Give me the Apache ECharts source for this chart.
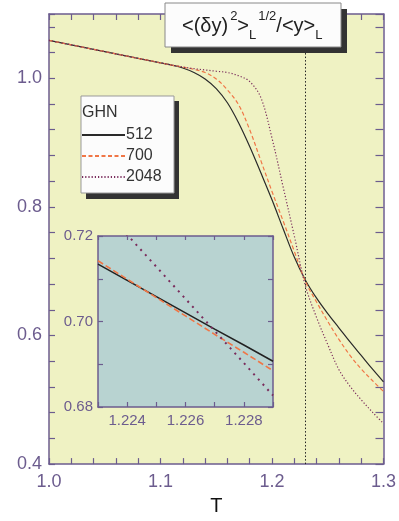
<!DOCTYPE html>
<html>
<head>
<meta charset="utf-8">
<script src="https://cdn.jsdelivr.net/npm/echarts@6/dist/echarts.min.js"></script>
<style>
  html, body { margin: 0; padding: 0; background: #fff; }
  #main { width: 399px; height: 521px; }
</style>
</head>
<body>
<div id="main"></div>
<script>
// main panel
var temps = [1.00, 1.02, 1.04, 1.06, 1.08, 1.10, 1.11, 1.12, 1.13, 1.14, 1.15, 1.16, 1.17, 1.18, 1.19,
             1.20, 1.21, 1.22, 1.23, 1.24, 1.25, 1.26, 1.27, 1.28, 1.29, 1.30];
var v512 = [1.059, 1.052, 1.045, 1.038, 1.031, 1.024, 1.0205, 1.016, 1.009, 0.999, 0.984, 0.962, 0.931, 0.894, 0.853,
            0.811, 0.766, 0.722, 0.686, 0.658, 0.634, 0.612, 0.590, 0.569, 0.548, 0.528];
var v700 = [1.059, 1.052, 1.045, 1.038, 1.031, 1.024, 1.0205, 1.0175, 1.014, 1.009, 0.999, 0.982, 0.959, 0.920, 0.872,
            0.824, 0.778, 0.731, 0.684, 0.652, 0.622, 0.594, 0.569, 0.548, 0.530, 0.513];
var v2048 = [1.059, 1.052, 1.045, 1.038, 1.031, 1.024, 1.0205, 1.0175, 1.015, 1.013, 1.011, 1.009, 1.004, 0.995, 0.970,
             0.907, 0.831, 0.755, 0.677, 0.628, 0.586, 0.547, 0.521, 0.500, 0.481, 0.463];

// inset (zoom near the crossing)
var tInset = [1.223, 1.224, 1.225, 1.226, 1.227, 1.228, 1.229];
var i512 = [0.7134, 0.7096, 0.7058, 0.7020, 0.6982, 0.6945, 0.6907];
var i700 = [0.7142, 0.7099, 0.7056, 0.7013, 0.6970, 0.6928, 0.6885];
var i2048 = [0.7278, 0.7203, 0.7128, 0.7053, 0.6978, 0.6903, 0.6827];

var TC = 1.2276;
var legendNames = ['512', '700', '2048'];

var purple = '#6c5c8e';
var font = 'Liberation Sans, Arial, sans-serif';

function pairs(xs, ys) {
    return xs.map(function (x, i) { return [x, ys[i]]; });
}
function every(step, digits) {
    return function (v) {
        var k = v / step;
        return Math.abs(k - Math.round(k)) < 1e-6 ? v.toFixed(digits) : '';
    };
}
function axis(grid, pos, min, max, step, label, tickLen) {
    return {
        type: 'value', gridIndex: grid, position: pos,
        min: min, max: max, interval: step,
        axisLine: { show: true, onZero: false, lineStyle: { color: purple, width: 1.5 } },
        axisTick: { show: true, inside: true, length: tickLen, lineStyle: { color: purple, width: 1.2 } },
        axisLabel: label ? label : { show: false },
        splitLine: { show: false }
    };
}

var myChart = echarts.init(document.getElementById('main'));

var xMain = axis(0, 'bottom', 1.0, 1.3, 0.02,
    { formatter: every(0.1, 1), fontSize: 18, color: purple, fontFamily: font, margin: 9 }, 6);
xMain.name = 'T';
xMain.nameLocation = 'middle';
xMain.nameGap = 27;
xMain.nameTextStyle = { fontSize: 20, color: '#111', fontFamily: font };

option = {
    animation: false,
    backgroundColor: '#fff',
    grid: [
        { left: 49, top: 14, width: 336, height: 460, show: true, backgroundColor: '#eff2c3', borderWidth: 0 },
        { left: 98, top: 236, width: 175, height: 171, show: true, backgroundColor: '#b8d3d1', borderWidth: 0 }
    ],
    xAxis: [
        xMain,
        axis(0, 'top', 1.0, 1.3, 0.02, null, 6),
        axis(1, 'bottom', 1.223, 1.229, 0.001,
            { formatter: every(0.002, 3), fontSize: 15, color: purple, fontFamily: font, margin: 6 }, 5),
        axis(1, 'top', 1.223, 1.229, 0.001, null, 4)
    ],
    yAxis: [
        axis(0, 'left', 0.4, 1.1, 0.04,
            { formatter: every(0.2, 1), fontSize: 18, color: purple, fontFamily: font, margin: 7 }, 6),
        axis(0, 'right', 0.4, 1.1, 0.04, null, 8),
        axis(1, 'left', 0.68, 0.72, 0.01,
            { formatter: every(0.02, 2), fontSize: 15, color: purple, fontFamily: font, margin: 5 }, 5),
        axis(1, 'right', 0.68, 0.72, 0.01, null, 5)
    ],
    legend: {
        data: legendNames,
        orient: 'vertical',
        left: 81, top: 127,
        itemWidth: 43, itemHeight: 10, itemGap: 5,
        padding: 0,
        selectedMode: false,
        z: 6,
        itemStyle: { opacity: 0 },
        textStyle: { fontSize: 16, color: '#333', fontFamily: font, lineHeight: 16, padding: [0, 0, 0, -4] }
    },
    graphic: [
        // title box
        { type: 'rect', z: 20, shape: { x: 171, y: 9, width: 176, height: 44 }, style: { fill: '#333' } },
        { type: 'rect', z: 21, shape: { x: 165, y: 3, width: 176, height: 44 },
          style: { fill: '#fcfcfc', stroke: '#888', lineWidth: 1 } },
        { type: 'text', z: 22, x: 182, y: 10,
          style: {
              text: '{m|<(δy)}{sup|2}{m|>}{sub|L}{sup|1/2}{m|/<y>}{sub|L}',
              fontFamily: font, fill: '#222',
              rich: {
                  m: { fontSize: 20, lineHeight: 32, fontFamily: font, color: '#222' },
                  sup: { fontSize: 13, lineHeight: 16, verticalAlign: 'top', fontFamily: font, color: '#222', padding: [0, 0, 0, 2] },
                  sub: { fontSize: 13, lineHeight: 12, verticalAlign: 'bottom', fontFamily: font, color: '#222' }
              }
          } },
        // legend box
        { type: 'rect', z: 3, shape: { x: 86, y: 101, width: 93, height: 98 }, style: { fill: '#333' } },
        { type: 'rect', z: 4, shape: { x: 81, y: 96, width: 93, height: 97 },
          style: { fill: '#fcfcfc', stroke: '#999', lineWidth: 1 } },
        { type: 'text', z: 5, x: 82, y: 105,
          style: { text: 'GHN', fontSize: 16, fontFamily: font, fill: '#333' } }
    ],
    series: [
        {
            name: '512', type: 'line', xAxisIndex: 0, yAxisIndex: 0,
            data: pairs(temps, v512), showSymbol: false, symbol: 'none',
            smooth: 0.35,
            lineStyle: { color: '#2a2a2a', width: 1.2, type: 'solid' },
            itemStyle: { color: '#2a2a2a' },
            markLine: {
                silent: true, symbol: 'none', animation: false,
                label: { show: false },
                lineStyle: { color: '#222', type: [1.5, 2], width: 1 },
                data: [{ xAxis: TC }]
            }
        },
        {
            name: '700', type: 'line', xAxisIndex: 0, yAxisIndex: 0,
            data: pairs(temps, v700), showSymbol: false, symbol: 'none',
            smooth: 0.35,
            lineStyle: { color: '#f07646', width: 1.2, type: [4, 2.5] },
            itemStyle: { color: '#f07646' }
        },
        {
            name: '2048', type: 'line', xAxisIndex: 0, yAxisIndex: 0,
            data: pairs(temps, v2048), showSymbol: false, symbol: 'none',
            smooth: 0.35,
            lineStyle: { color: '#7a2c5c', width: 1.2, type: [1.2, 2] },
            itemStyle: { color: '#7a2c5c' }
        },
        {
            name: 'inset 512', type: 'line', xAxisIndex: 2, yAxisIndex: 2,
            data: pairs(tInset, i512), showSymbol: false, symbol: 'none',
            lineStyle: { color: '#222', width: 1.5, type: 'solid' },
            markLine: {
                silent: true, symbol: 'none', animation: false,
                label: { show: false },
                lineStyle: { color: '#5d7d78', type: [2, 2], width: 1.5 },
                data: [{ xAxis: TC }]
            }
        },
        {
            name: 'inset 700', type: 'line', xAxisIndex: 2, yAxisIndex: 2,
            data: pairs(tInset, i700), showSymbol: false, symbol: 'none',
            lineStyle: { color: '#f07646', width: 1.6, type: [6, 3] }
        },
        {
            name: 'inset 2048', type: 'line', xAxisIndex: 2, yAxisIndex: 2,
            data: pairs(tInset, i2048), showSymbol: false, symbol: 'none',
            lineStyle: { color: '#7a2c5c', width: 2, type: [2, 5] }
        }
    ]
};
myChart.setOption(option);
</script>
</body>
</html>
